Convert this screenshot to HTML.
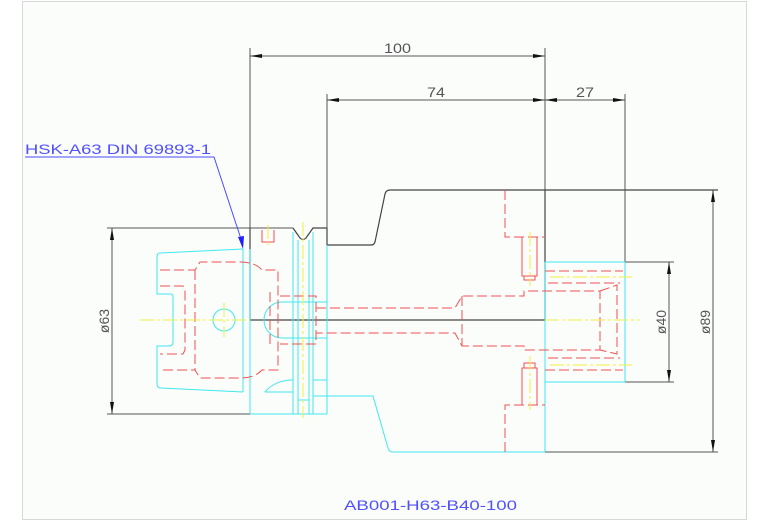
<!DOCTYPE html>
<html><head><meta charset="utf-8"><style>
html,body{margin:0;padding:0;background:#fff;}
svg{display:block;}
text{font-family:"Liberation Sans",sans-serif;}
</style></head><body>
<svg width="767" height="523" viewBox="0 0 767 523" xmlns="http://www.w3.org/2000/svg">
<rect x="22.5" y="1.5" width="724" height="518" fill="#fbfdfb" stroke="#d8d8d8" stroke-width="1"/>

<!-- dimension lines -->
<g stroke="#555" stroke-width="1" fill="none">
<line x1="250" y1="48" x2="250" y2="320"/>
<line x1="545" y1="48" x2="545" y2="320"/>
<line x1="327" y1="94" x2="327" y2="245"/>
<line x1="625" y1="94" x2="625" y2="262"/>
<line x1="250" y1="56" x2="545" y2="56"/>
<line x1="327" y1="100" x2="625" y2="100"/>
<line x1="107" y1="228" x2="293" y2="228"/>
<line x1="107" y1="414" x2="250" y2="414"/>
<line x1="112" y1="228" x2="112" y2="414"/>
<line x1="625" y1="262" x2="674" y2="262"/>
<line x1="625" y1="382" x2="674" y2="382"/>
<line x1="669" y1="262" x2="669" y2="382"/>
<line x1="545" y1="452" x2="718" y2="452"/>
<line x1="713" y1="190" x2="713" y2="452"/>
</g>
<g fill="#111">
<polygon points="250,56 262,54 262,58"/><polygon points="545,56 533,54 533,58"/>
<polygon points="327,100 339,98 339,102"/><polygon points="545,100 533,98 533,102"/>
<polygon points="545,100 557,98 557,102"/><polygon points="625,100 613,98 613,102"/>
<polygon points="112,228 110,240 114,240"/><polygon points="112,414 110,402 114,402"/>
<polygon points="669,262 667,274 671,274"/><polygon points="669,382 667,370 671,370"/>
<polygon points="713,190 711,202 715,202"/><polygon points="713,452 711,440 715,440"/>
</g>
<g fill="#555" font-size="14">
<text x="384" y="53" textLength="27" lengthAdjust="spacingAndGlyphs">100</text>
<text x="427" y="97" textLength="18" lengthAdjust="spacingAndGlyphs">74</text>
<text x="576" y="97" textLength="18" lengthAdjust="spacingAndGlyphs">27</text>
<text transform="translate(109,321) rotate(-90)" text-anchor="middle">ø63</text>
<text transform="translate(666,322) rotate(-90)" text-anchor="middle">ø40</text>
<text transform="translate(710,322) rotate(-90)" text-anchor="middle">ø89</text>
</g>

<!-- upper outline dark -->
<g stroke="#444" stroke-width="1.2" fill="none">
<path d="M293,228 L300,238 Q303,241 306,238 L313,228 L327,228"/>
<path d="M327,228 L327,245 L371,245 Q374,245 375,242 L385,194 Q386,190 390,190 L718,190"/>
<line x1="250" y1="320" x2="545" y2="320"/>
<line x1="250" y1="228" x2="250" y2="320"/>
<line x1="545" y1="190" x2="545" y2="320"/>
</g>

<!-- cyan -->
<g stroke="#40e8f0" stroke-width="1" fill="none">
<path d="M243,249 L160,253 Q157,253 157,257 L157,294 L171,294 Q173,294 173,298 L173,342 Q173,346 169,346 L157,346 L157,384 Q157,388 161,388 L243,392"/>
<line x1="243" y1="249" x2="243" y2="392"/>
<line x1="250" y1="249" x2="250" y2="414"/>
<line x1="250" y1="414" x2="327" y2="414"/>
<circle cx="224" cy="320" r="11"/>
<path d="M282,302 A18,18 0 0 0 282,338"/>
<line x1="282" y1="302" x2="327" y2="302"/>
<line x1="282" y1="338" x2="327" y2="338"/>
<line x1="293" y1="232" x2="293" y2="414"/>
<line x1="298" y1="240" x2="298" y2="414"/>
<line x1="309" y1="240" x2="309" y2="414"/>
<line x1="313" y1="232" x2="313" y2="414"/>
<line x1="327" y1="245" x2="327" y2="414"/>
<path d="M265,392 Q275,380 293,380"/><line x1="265" y1="392" x2="293" y2="392"/>
<path d="M313,380 L327,380 M313,396 L327,396 M298,400 L309,400"/>
<path d="M327,396 L373,396 L388,448 Q389,452 393,452 L545,452"/>
<line x1="545" y1="262" x2="545" y2="452"/>
<path d="M545,262 L625,262 L625,382 L545,382"/>
</g>

<!-- red dashed -->
<g stroke="#f05050" stroke-width="1" fill="none" stroke-dasharray="10,4">
<path d="M160,270 L195,270 L200,262 L240,262 Q255,262 262,270 L278,270 L278,370 L262,370 Q255,378 240,378 L200,378 L195,370 L160,370"/>
<path d="M195,270 L195,370"/>
<path d="M160,286 L183,286 L185,290 L185,350 L183,354 L160,354"/>
<path d="M270,292 L270,348"/>
<path d="M280,296 L316,296 L316,344 L280,344"/>
<path d="M316,308 L455,308 L462,296 L524,296 L524,291 L600,291 L600,350 L524,350 L524,346 L462,346 L455,333 L316,333"/>
<path d="M462,296 L462,346"/>
<path d="M600,291 L617,285 L617,354 L600,350"/>
<path d="M505,190 L505,237 L545,237"/>
<path d="M505,452 L505,405 L545,405"/>
<path d="M545,271 L623,271 M548,283 L620,283"/>
<path d="M545,370 L623,370 M548,358 L620,358"/>
</g>
<g stroke="#f05050" stroke-width="1" fill="none">
<path d="M262,230 L262,242 L274,242 L274,230"/>
<path d="M522,237 L522,276 L537,276 L537,237 M524,276 L524,280 L535,280 L535,276"/>
<path d="M522,405 L522,368 L537,368 L537,405 M524,368 L524,363 L535,363 L535,368"/>
</g>

<!-- yellow centerlines -->
<g stroke="#f0f040" stroke-width="1" fill="none" stroke-dasharray="14,3,3,3">
<line x1="140" y1="320" x2="250" y2="320"/>
<line x1="545" y1="320" x2="640" y2="320"/>
<line x1="303" y1="222" x2="303" y2="418"/>
<line x1="224" y1="303" x2="224" y2="337"/>
<line x1="268" y1="225" x2="268" y2="246"/>
<line x1="530" y1="232" x2="530" y2="286"/>
<line x1="530" y1="356" x2="530" y2="410"/>
<line x1="550" y1="277" x2="632" y2="277"/>
<line x1="550" y1="365" x2="632" y2="365"/>
</g>

<!-- leader label -->
<g stroke="#4a4aff" stroke-width="1" fill="none">
<path d="M25,157 L214,157 L243,245"/>
</g>
<polygon points="243,249 238,237 244,236" fill="#2020ff"/>
<g fill="#5050ff" font-size="14">
<text x="25" y="154" textLength="186" lengthAdjust="spacingAndGlyphs">HSK-A63 DIN 69893-1</text>
<text x="344" y="510" textLength="173" lengthAdjust="spacingAndGlyphs">AB001-H63-B40-100</text>
</g>
</svg>
</body></html>
